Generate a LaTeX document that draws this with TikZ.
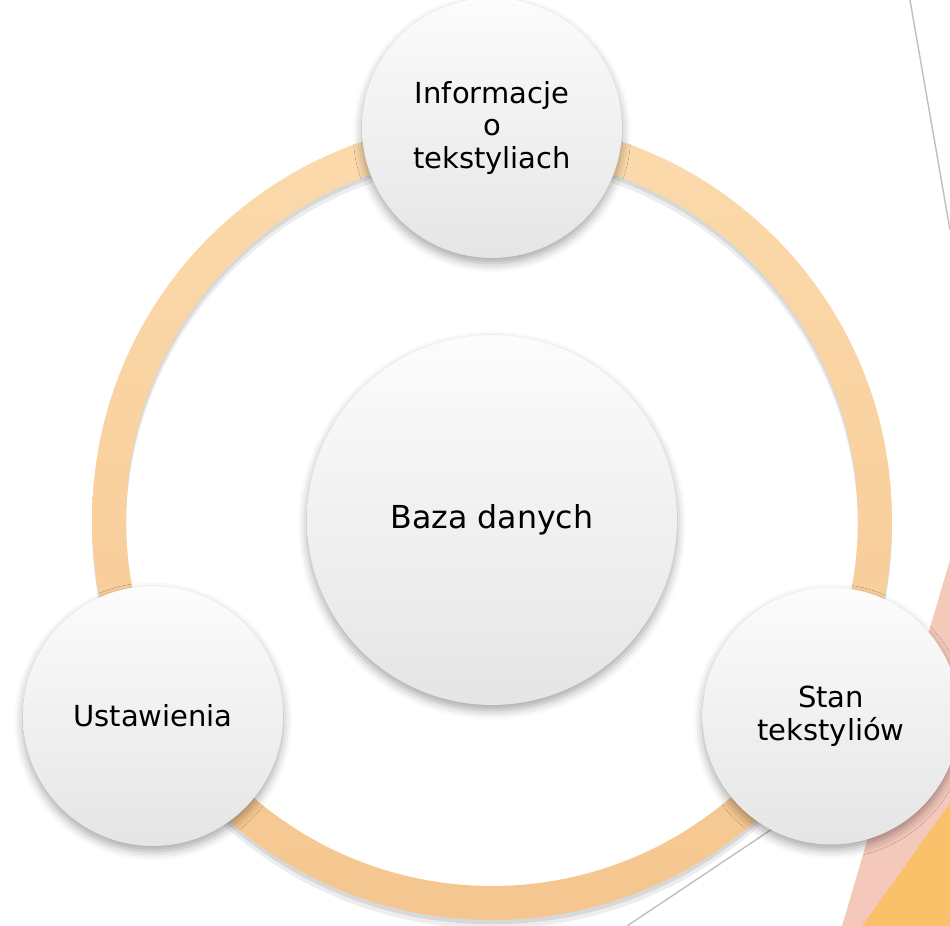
\documentclass[tikz,border=0pt]{standalone}
\usepackage{fontspec}
\setmainfont{DejaVu Sans}
\usetikzlibrary{shadows.blur}

\definecolor{ringtop}{RGB}{252,218,172}
\definecolor{ringbot}{RGB}{245,198,143}
\definecolor{salmon}{RGB}{245,200,188}
\definecolor{amber}{RGB}{251,192,106}
\definecolor{discup}{RGB}{252,252,252}
\definecolor{discdown}{RGB}{229,229,229}

\begin{document}
\begin{tikzpicture}[
    x=0.02cm, y=-0.02cm,
    disc/.style={
        circle, top color=discup, bottom color=discdown, draw=none,
        align=center, text=black, inner sep=0pt,
        font=\fontsize{16.5}{18.7}\selectfont,
        blur shadow={shadow xshift=0pt, shadow yshift=-3pt,
                     shadow blur radius=5pt, shadow opacity=35}
    },
    hub/.style={disc, minimum size=7.4cm, font=\fontsize{18}{21}\selectfont},
    spoke/.style={disc, minimum size=5.2cm},
    deco/.style={draw=black!25, line width=0.8pt},
]
\useasboundingbox (0,0) rectangle (950,926);
\clip (0,0) rectangle (950,926);

% ── Background decoration ─────────────────────────────────────
\fill[salmon] (950,560) -- (842,926) -- (950,926) -- cycle;
\fill[amber]  (950,803) -- (862,926) -- (950,926) -- cycle;
\coordinate (lt) at (910,0);
\coordinate (lb) at (950,230);
\draw[deco] (lt) -- (lb);
\coordinate (bl) at (627,926);
\coordinate (br) at (790,817);
\draw[deco] (bl) -- (br);

% ── Ring ──────────────────────────────────────────────────────
\coordinate (c) at (492,520);
\fill[black, opacity=0.07, even odd rule]
    ([yshift=-5pt]c) circle (8.0cm) ([yshift=-5pt]c) circle (7.32cm);
\fill[black, opacity=0.09, even odd rule]
    ([yshift=-2.5pt]c) circle (8.0cm) ([yshift=-2.5pt]c) circle (7.32cm);
\shade[top color=ringtop, bottom color=ringbot, even odd rule]
    (c) circle (8.0cm) (c) circle (7.32cm);

% ── Circles ───────────────────────────────────────────────────
\node[hub]   (db)   at (492,520) {Baza danych};
\node[spoke] (info) at (492,128) {Informacje\\o\\tekstyliach};
\node[spoke] (ust)  at (153,716) {Ustawienia};
\node[spoke, minimum size=5.14cm] (stan) at (831,716) {Stan\\tekstyliów};

\end{tikzpicture}
\end{document}
